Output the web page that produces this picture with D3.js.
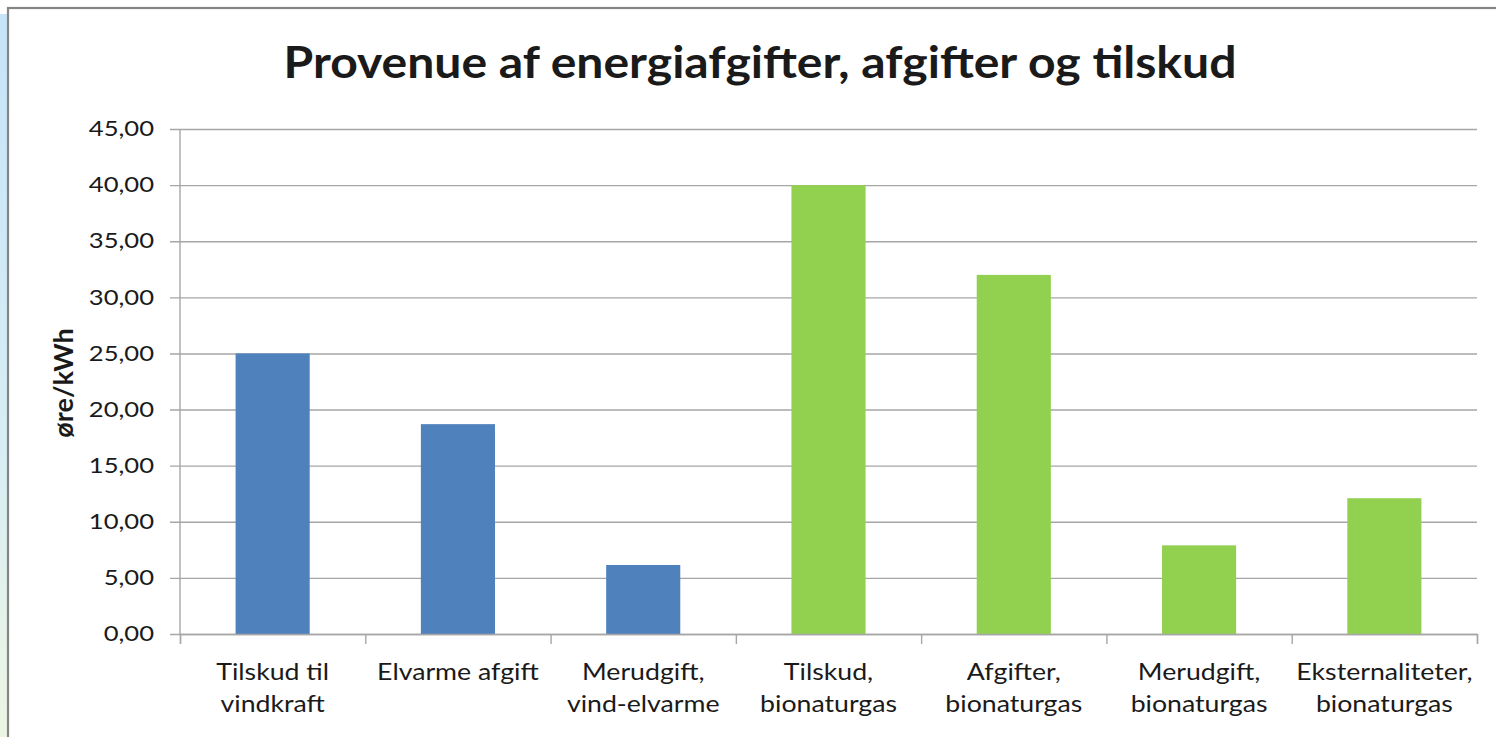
<!DOCTYPE html>
<html><head><meta charset="utf-8">
<script src="https://cdn.jsdelivr.net/npm/d3@7"></script>
<style>
html,body{margin:0;padding:0;background:#fff;overflow:hidden;}
svg{display:block;}
text{font-family:Lato,"Open Sans",sans-serif;fill:#1a1a1a;}
</style></head>
<body>
<svg id="c" width="1496" height="737"></svg>
<script>
const categories = [
  ["Tilskud til","vindkraft"],
  ["Elvarme afgift"],
  ["Merudgift,","vind-elvarme"],
  ["Tilskud,","bionaturgas"],
  ["Afgifter,","bionaturgas"],
  ["Merudgift,","bionaturgas"],
  ["Eksternaliteter,","bionaturgas"]
];
const values = [25.0, 18.7, 6.15, 40.0, 32.0, 7.9, 12.1];
const groups = ["el","el","el","gas","gas","gas","gas"];
const yTicks = [0,5,10,15,20,25,30,35,40,45];
const title = "Provenue af energiafgifter, afgifter og tilskud";
const yLabel = "øre/kWh";

const svg = d3.select("#c");
const defs = svg.append("defs");
const lg = defs.append("linearGradient").attr("id","bg").attr("x1",0).attr("y1",0).attr("x2",0).attr("y2",1);
lg.append("stop").attr("offset","0%").attr("stop-color","#c6e4f8");
lg.append("stop").attr("offset","60%").attr("stop-color","#d8eef4");
lg.append("stop").attr("offset","100%").attr("stop-color","#eef6e2");
svg.append("rect").attr("x",0).attr("y",14).attr("width",10).attr("height",737).attr("fill","url(#bg)");

// chart frame
svg.append("rect").attr("x",8).attr("y",8).attr("width",1600).attr("height",800)
  .attr("fill","#fff").attr("stroke","#858585").attr("stroke-width",2.2);

const m = {left:180, right:1477, top:129, bottom:634};
const x = d3.scaleBand().domain(d3.range(categories.length)).range([m.left,m.right]).paddingInner(0.6).paddingOuter(0.3);
const y = d3.scaleLinear().domain([0,45]).range([m.bottom,m.top]);
const color = d => d==="el" ? "#4f81bd" : "#92d050";

// gridlines
const yAxis = d3.axisLeft(y).tickValues(yTicks).tickSize(-(m.right-m.left)).tickPadding(0)
  .tickFormat(d => d3.format(".2f")(d).replace(".",","));
const gy = svg.append("g").attr("transform",`translate(${m.left},0)`).call(yAxis);
gy.select(".domain").remove();
gy.selectAll(".tick line").attr("stroke","#a6a6a6").attr("stroke-width",1.4).attr("x1",-10);
gy.selectAll(".tick text").attr("font-size",21).attr("fill","#1a1a1a")
  .attr("x",0).attr("transform","translate(-26,0) scale(1.22,1)");

// bars
svg.append("g").selectAll("rect").data(values).join("rect")
  .attr("x",(d,i)=>x(i)).attr("width",x.bandwidth())
  .attr("y",d=>y(d)).attr("height",d=>y(0)-y(d))
  .attr("fill",(d,i)=>color(groups[i]));

// y axis line
svg.append("line").attr("x1",m.left).attr("x2",m.left).attr("y1",m.top).attr("y2",m.bottom)
  .attr("stroke","#a6a6a6").attr("stroke-width",1.4);

// x axis
const xb = d3.scaleLinear().domain([0,categories.length]).range([m.left,m.right]);
const xAxis = d3.axisBottom(xb).tickValues(d3.range(categories.length+1)).tickSize(10).tickFormat("");
const gx = svg.append("g").attr("transform",`translate(0,${m.bottom})`).call(xAxis);
gx.select(".domain").attr("stroke","#a6a6a6").attr("stroke-width",1.4);
gx.selectAll(".tick line").attr("stroke","#a6a6a6").attr("stroke-width",1.4);

// category labels
const lab = svg.append("g").selectAll("text").data(categories).join("text")
  .attr("text-anchor","middle").attr("font-size",23)
  .attr("transform",(d,i)=>`translate(${x(i)+x.bandwidth()/2},680) scale(1.16,1)`);
lab.selectAll("tspan").data(d=>d).join("tspan")
  .attr("x",0).attr("dy",(d,j)=>j===0?0:32).text(d=>d);

// title
svg.append("text").attr("transform","translate(760,78) scale(1.08,1)").attr("text-anchor","middle")
  .attr("font-size",44.5).attr("font-weight","bold").attr("fill","#000").text(title);

// y label
svg.append("text").attr("transform","translate(73,383) rotate(-90)").attr("text-anchor","middle")
  .attr("font-size",27).attr("font-weight","bold").attr("fill","#000").text(yLabel);
</script>
</body></html>
